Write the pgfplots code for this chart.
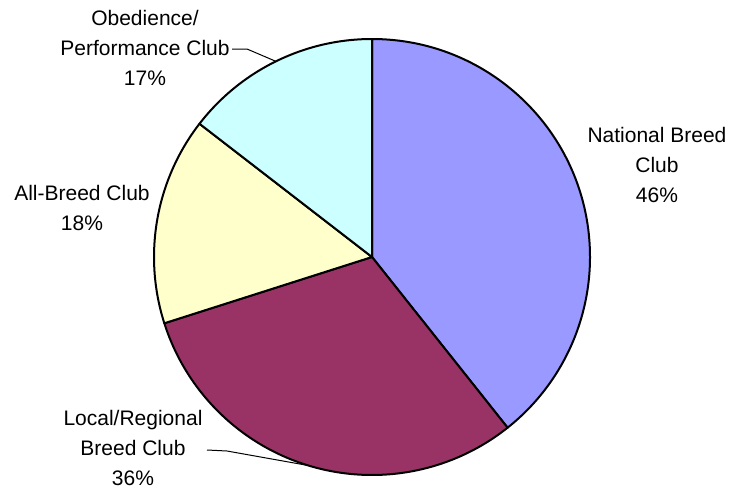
\documentclass[border=0pt]{standalone}
\usepackage{pgfplots}
\pgfplotsset{compat=1.18}
\usepackage{pgfplotstable}
\usetikzlibrary{calc}
\usepackage{fontspec}
\setmainfont{Liberation Sans}

\definecolor{national}{HTML}{9999FF}
\definecolor{localclub}{HTML}{993366}
\definecolor{allbreed}{HTML}{FFFFCC}
\definecolor{obedience}{HTML}{CCFFFF}

% share of respondents by club type (the slices are value/sum)
\pgfplotstableread{
club      value
National  46
Local     36
AllBreed  18
Obedience 17
}\piedata

\begin{document}
\begin{tikzpicture}[lbl/.style={align=center, font=\fontsize{10.5}{15}\selectfont}]
\pgfplotstablegetelem{0}{value}\of\piedata\let\vA\pgfplotsretval
\pgfplotstablegetelem{1}{value}\of\piedata\let\vB\pgfplotsretval
\pgfplotstablegetelem{2}{value}\of\piedata\let\vC\pgfplotsretval
\pgfplotstablegetelem{3}{value}\of\piedata\let\vD\pgfplotsretval
\pgfmathsetmacro\tot{\vA+\vB+\vC+\vD}
% slices run clockwise from 12 o'clock
\pgfmathsetmacro\aA{90-360*(\vA/\tot)}
\pgfmathsetmacro\aB{\aA-360*(\vB/\tot)}
\pgfmathsetmacro\aC{\aB-360*(\vC/\tot)}
\pgfmathsetmacro\mB{(\aA+\aB)/2}
\pgfmathsetmacro\mD{(\aC-270)/2}
\def\R{109pt}
\begin{axis}[
    scale only axis,
    width=371.5pt, height=244.5pt,
    xmin=0, xmax=743, ymin=0, ymax=489,
    y dir=reverse,
    hide axis, clip=false,
  ]
  \path (axis cs:0,0) rectangle (axis cs:743,489);
  \begin{scope}[line width=1pt, line join=round]
  \filldraw[fill=national] (axis cs:372,257) -- ++(90:\R)
    arc[start angle=90, end angle=\aA, radius=\R] -- cycle;
  \filldraw[fill=localclub] (axis cs:372,257) -- ++(\aA:\R)
    arc[start angle=\aA, end angle=\aB, radius=\R] -- cycle;
  \filldraw[fill=allbreed] (axis cs:372,257) -- ++(\aB:\R)
    arc[start angle=\aB, end angle=\aC, radius=\R] -- cycle;
  \filldraw[fill=obedience] (axis cs:372,257) -- ++(\aC:\R)
    arc[start angle=\aC, end angle=-270, radius=\R] -- cycle;
  \end{scope}

  \node[lbl] at (axis cs:657,165) {National Breed\\Club\\46\%};
  \node[lbl] at (axis cs:133,448) {Local/Regional\\Breed Club\\36\%};
  \node[lbl] at (axis cs:82,208) {All-Breed Club\\18\%};
  \node[lbl] at (axis cs:145,48) {Obedience/\\Performance Club\\17\%};

  \draw[line width=0.5pt] (axis cs:207,450) -- (axis cs:227,451)
    -- ($(axis cs:372,257)+(\mB:\R)$);
  \draw[line width=0.5pt] (axis cs:232,49) -- (axis cs:247,49)
    -- ($(axis cs:372,257)+(\mD:\R)$);
\end{axis}
\end{tikzpicture}
\end{document}
